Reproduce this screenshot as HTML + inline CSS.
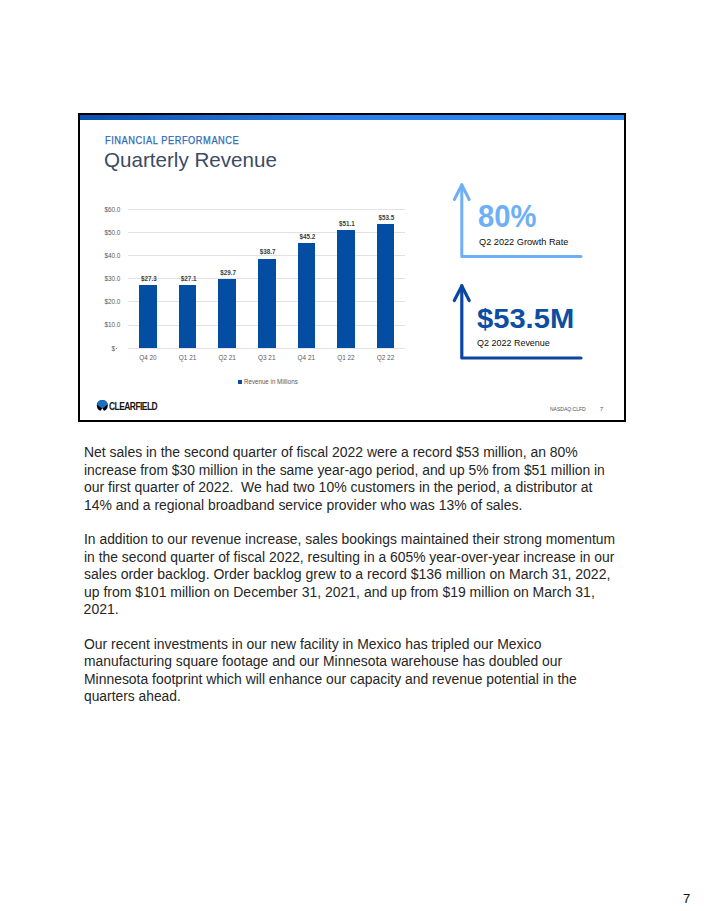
<!DOCTYPE html>
<html><head><meta charset="utf-8">
<style>
html,body{margin:0;padding:0;background:#fff;}
body{width:704px;height:911px;position:relative;overflow:hidden;font-family:"Liberation Sans",sans-serif;}
.a{position:absolute;white-space:pre;line-height:1;transform-origin:0 0;}
#slide{position:absolute;left:78px;top:113px;width:544px;height:305px;border:2px solid #000;}
#bar{position:absolute;left:0;top:0;width:544px;height:5px;background:linear-gradient(90deg,#0a4fae 0%,#1864c4 20%,#2a7fe6 45%,#2c8cf6 100%);}
.bl{position:absolute;left:83.6px;font-size:14px;color:#262626;white-space:pre;line-height:17.4px;transform-origin:0 0;}
.g{position:absolute;left:128.2px;width:277.10px;height:1px;background:#e2e2e2;}
.bar{position:absolute;width:17.6px;background:#034ea2;}
.dl{position:absolute;width:40px;text-align:center;font-size:6.3px;font-weight:700;color:#404040;line-height:1;white-space:pre;}
.xl{position:absolute;width:40px;text-align:center;font-size:6.4px;color:#595959;line-height:1;white-space:pre;}
.yl{position:absolute;left:80px;width:40.4px;text-align:right;font-size:6.4px;color:#595959;line-height:1;white-space:pre;}
</style></head><body>
<div id="slide"><div id="bar"></div></div>
<div class="a" style="left:104.50px;top:136.40px;font-size:10.0px;font-weight:400;color:#2e6cb5;transform:scaleX(0.9264);letter-spacing:0.6px;-webkit-text-stroke:0.25px #2e6cb5;">FINANCIAL PERFORMANCE</div>
<div class="a" style="left:103.50px;top:149.14px;font-size:21px;font-weight:400;color:#3b4b63;transform:scaleX(0.9806);;">Quarterly Revenue</div>
<div class="g" style="top:347.70px"></div><div class="g" style="top:324.53px"></div><div class="g" style="top:301.37px"></div><div class="g" style="top:278.20px"></div><div class="g" style="top:255.03px"></div><div class="g" style="top:231.87px"></div><div class="g" style="top:208.70px"></div>
<div class="bar" style="left:139.19px;top:284.95px;height:63.25px"></div><div class="bar" style="left:178.78px;top:285.42px;height:62.78px"></div><div class="bar" style="left:218.36px;top:279.39px;height:68.81px"></div><div class="bar" style="left:257.95px;top:258.54px;height:89.66px"></div><div class="bar" style="left:297.54px;top:243.49px;height:104.71px"></div><div class="bar" style="left:337.12px;top:229.82px;height:118.38px"></div><div class="bar" style="left:376.71px;top:224.26px;height:123.94px"></div>
<div class="dl" style="left:128.99px;top:275.90px">$27.3</div><div class="xl" style="left:127.99px;top:355.08px">Q4 20</div><div class="dl" style="left:168.58px;top:276.36px">$27.1</div><div class="xl" style="left:167.58px;top:355.08px">Q1 21</div><div class="dl" style="left:208.16px;top:270.34px">$29.7</div><div class="xl" style="left:207.16px;top:355.08px">Q2 21</div><div class="dl" style="left:247.75px;top:249.49px">$38.7</div><div class="xl" style="left:246.75px;top:355.08px">Q3 21</div><div class="dl" style="left:287.34px;top:234.43px">$45.2</div><div class="xl" style="left:286.34px;top:355.08px">Q4 21</div><div class="dl" style="left:326.92px;top:220.76px">$51.1</div><div class="xl" style="left:325.92px;top:355.08px">Q1 22</div><div class="dl" style="left:366.51px;top:215.20px">$53.5</div><div class="xl" style="left:365.51px;top:355.08px">Q2 22</div>
<div class="a" style="left:111.6px;top:345.84px;font-size:6.4px;color:#595959">$</div><div style="position:absolute;left:115.6px;top:347.80px;width:1.3px;height:0.8px;background:#7a7a7a"></div><div class="yl" style="top:322.47px">$10.0</div><div class="yl" style="top:299.30px">$20.0</div><div class="yl" style="top:276.14px">$30.0</div><div class="yl" style="top:252.97px">$40.0</div><div class="yl" style="top:229.80px">$50.0</div><div class="yl" style="top:206.64px">$60.0</div>
<div style="position:absolute;left:238px;top:379.7px;width:4px;height:4px;background:#034ea2"></div>
<div class="a" style="left:243.75px;top:378.91px;font-size:6.8px;font-weight:400;color:#595959;transform:scaleX(0.9119);;">Revenue in Millions</div>
<svg class="a" style="left:0;top:0" width="704" height="911" viewBox="0 0 704 911">
  <g fill="none" stroke="#6eaff8" stroke-width="3" stroke-linecap="round" stroke-linejoin="round">
    <polyline points="461.8,184.5 461.8,256.5 581,256.5"/>
    <polyline points="454.3,199.5 461.8,185 469.2,199.5"/>
  </g>
  <g fill="none" stroke="#0a47a0" stroke-width="3.2" stroke-linecap="round" stroke-linejoin="round">
    <polyline points="461.8,285.5 461.8,358 581,358"/>
    <polyline points="454.3,300.5 461.8,286 469.2,300.5"/>
  </g>
  <g>
    <circle cx="102.3" cy="405.5" r="5.5" fill="#000"/>
    <path d="M96.91,404.4 A5.5,5.5 0 0 1 107.69,404.4 L102.3,408.8 Z" fill="#1a6fc4"/>
    <path d="M100.2,411.5 L102.3,408.3 L104.4,411.5 Z" fill="#fff"/>
  </g>
</svg>
<div class="a" style="left:477.50px;top:200.64px;font-size:31.6px;font-weight:700;color:#6eaff8;transform:scaleX(0.9227);;">80%</div>
<div class="a" style="left:478.50px;top:237.46px;font-size:9.6px;font-weight:400;color:#0d0d0d;transform:scaleX(0.9570);;">Q2 2022 Growth Rate</div>
<div class="a" style="left:477.00px;top:303.76px;font-size:28.4px;font-weight:700;color:#0b4ea2;transform:scaleX(1.0262);;">$53.5M</div>
<div class="a" style="left:477.00px;top:337.96px;font-size:9.6px;font-weight:400;color:#0d0d0d;transform:scaleX(0.9352);;">Q2 2022 Revenue</div>
<div class="a" style="left:108.70px;top:401.30px;font-size:10.6px;font-weight:700;color:#141414;transform:scaleX(0.8001);letter-spacing:-0.7px;">CLEARFIELD</div>
<div class="a" style="left:549.50px;top:406.41px;font-size:6.2px;font-weight:400;color:#4a5060;transform:scaleX(0.8093);;">NASDAQ:CLFD</div>
<div class="a" style="left:599.8px;top:406.2px;font-size:6.2px;color:#4a5060;">7</div>
<div class="bl" style="top:444.4px;transform:scaleX(0.996)">Net sales in the second quarter of fiscal 2022 were a record $53 million, an 80%</div><div class="bl" style="top:461.8px;transform:scaleX(0.99)">increase from $30 million in the same year-ago period, and up 5% from $51 million in</div><div class="bl" style="top:479.2px;transform:scaleX(0.9994)">our first quarter of 2022.  We had two 10% customers in the period, a distributor at</div><div class="bl" style="top:496.6px;transform:scaleX(0.995)">14% and a regional broadband service provider who was 13% of sales.</div><div class="bl" style="top:531.4px;transform:scaleX(0.9905)">In addition to our revenue increase, sales bookings maintained their strong momentum</div><div class="bl" style="top:548.8px;transform:scaleX(0.9905)">in the second quarter of fiscal 2022, resulting in a 605% year-over-year increase in our</div><div class="bl" style="top:566.2px;transform:scaleX(1.002)">sales order backlog. Order backlog grew to a record $136 million on March 31, 2022,</div><div class="bl" style="top:583.6px;transform:scaleX(0.999)">up from $101 million on December 31, 2021, and up from $19 million on March 31,</div><div class="bl" style="top:601.0px;transform:scaleX(1.0)">2021.</div><div class="bl" style="top:635.8px;transform:scaleX(0.9946)">Our recent investments in our new facility in Mexico has tripled our Mexico</div><div class="bl" style="top:653.2px;transform:scaleX(0.9907)">manufacturing square footage and our Minnesota warehouse has doubled our</div><div class="bl" style="top:670.6px;transform:scaleX(0.994)">Minnesota footprint which will enhance our capacity and revenue potential in the</div><div class="bl" style="top:688.0px;transform:scaleX(0.987)">quarters ahead.</div>
<div class="a" style="left:683px;top:892px;font-size:13px;color:#111;">7</div>
</body></html>
